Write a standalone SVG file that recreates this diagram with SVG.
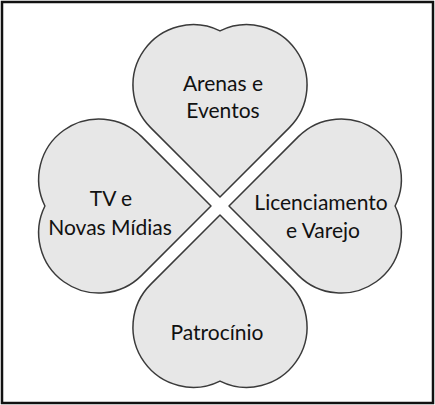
<svg xmlns="http://www.w3.org/2000/svg" xmlns:xlink="http://www.w3.org/1999/xlink" width="435" height="405" viewBox="0 0 435 405">
  <style>
    .leaf { fill: #e7e7e7; stroke: #3a3a3a; stroke-width: 1.5; stroke-linejoin: round; }
    .lbl { font-family: Lato, "Open Sans", "Liberation Sans", sans-serif; font-size: 21px; fill: #111111; text-anchor: middle; }
    .frame { fill: #ffffff; stroke: #111111; stroke-width: 2.5; }
  </style>
  <defs>
    <path id="heart" d="M0,-9 L-69.35,-78.35 A60.3,60.3 0 0 1 0,-175.07 A60.3,60.3 0 0 1 69.35,-78.35 Z"/>
  </defs>
  <rect class="frame" x="2" y="2" width="431" height="401"/>
  <g id="connectors"/>
  <g id="arenas">
    <use xlink:href="#heart" href="#heart" class="leaf" transform="translate(220,206)"/>
    <text class="lbl" x="223" y="91">Arenas e</text>
    <text class="lbl" x="223" y="118">Eventos</text>
  </g>
  <g id="licenciamento">
    <use xlink:href="#heart" href="#heart" class="leaf" transform="translate(220,206) rotate(90)"/>
    <text class="lbl" x="321" y="210">Licenciamento</text>
    <text class="lbl" x="323" y="238">e Varejo</text>
  </g>
  <g id="patrocinio">
    <use xlink:href="#heart" href="#heart" class="leaf" transform="translate(220,206) rotate(180)"/>
    <text class="lbl" x="217" y="340">Patrocínio</text>
  </g>
  <g id="tv">
    <use xlink:href="#heart" href="#heart" class="leaf" transform="translate(220,206) rotate(270)"/>
    <text class="lbl" x="111" y="206">TV e</text>
    <text class="lbl" x="110" y="235">Novas Mídias</text>
  </g>
</svg>
